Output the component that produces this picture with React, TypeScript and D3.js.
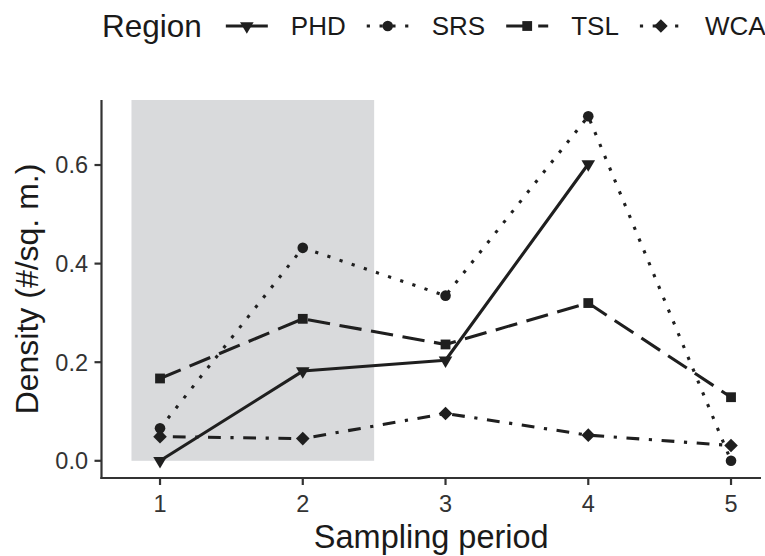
import { useEffect, useRef } from 'react';
import * as d3 from 'd3';

const PERIODS = [1, 2, 3, 4, 5];
const REGIONS = ['PHD', 'SRS', 'TSL', 'WCA'];
const PHD = [0, 0.182, 0.204, 0.602, null];
const SRS = [0.066, 0.432, 0.335, 0.699, 0.0];
const TSL = [0.167, 0.288, 0.236, 0.32, 0.129];
const WCA = [0.049, 0.045, 0.096, 0.052, 0.031];
const Y_TICKS = [0, 0.2, 0.4, 0.6];
const SHADE = [0.8, 2.5];

const SERIES: (number | null)[][] = [PHD, SRS, TSL, WCA];

const W = 765;
const H = 556;
const PANEL = { left: 101.5, right: 761, top: 100, bottom: 478 };
const INK = '#1f1f1f';
const TEXT = '#1a1a1a';
const FONT = '"Liberation Sans", Arial, Helvetica, sans-serif';
const LWD = 3.1;
const U = 3.2; // dash unit

const DASH: Record<string, string | null> = {
  PHD: null,
  SRS: `${U} ${U * 3}`,
  TSL: `${U * 7} ${U * 3}`,
  WCA: `${U} ${U * 3} ${U * 4} ${U * 3}`,
};

function drawShape(g: d3.Selection<SVGGElement, unknown, null, undefined>, region: string, cx: number, cy: number) {
  if (region === 'PHD') {
    const w = 6.8, h = 11.5;
    g.append('path')
      .attr('d', `M${cx - w},${cy - h / 3}L${cx + w},${cy - h / 3}L${cx},${cy + (2 * h) / 3}Z`)
      .attr('fill', INK);
  } else if (region === 'SRS') {
    g.append('circle').attr('cx', cx).attr('cy', cy).attr('r', 5.3).attr('fill', INK);
  } else if (region === 'TSL') {
    g.append('rect').attr('x', cx - 4.9).attr('y', cy - 4.9).attr('width', 9.8).attr('height', 9.8).attr('fill', INK);
  } else {
    const r = 6.8;
    g.append('path')
      .attr('d', `M${cx},${cy - r}L${cx + r},${cy}L${cx},${cy + r}L${cx - r},${cy}Z`)
      .attr('fill', INK);
  }
}

export default function App() {
  const svgRef = useRef<SVGSVGElement>(null);

  useEffect(() => {
    document.body.style.margin = '0';
    const svgEl = svgRef.current;
    if (!svgEl) return;
    const svg = d3.select(svgEl);
    svg.selectAll('*').remove();

    const x = d3.scaleLinear().domain([0.59, 5.21]).range([PANEL.left, PANEL.right]);
    const y = d3.scaleLinear().domain([-0.0349, 0.7319]).range([PANEL.bottom, PANEL.top]);

    // shaded period
    svg.append('rect')
      .attr('x', x(SHADE[0]))
      .attr('y', PANEL.top)
      .attr('width', x(SHADE[1]) - x(SHADE[0]))
      .attr('height', y(0) - PANEL.top)
      .attr('fill', '#d9dadc');

    // lines
    const line = d3.line<[number, number | null]>()
      .defined((d) => d[1] != null)
      .x((d) => x(d[0]))
      .y((d) => y(d[1] as number));

    REGIONS.forEach((region, i) => {
      const pts = PERIODS.map((p, j) => [p, SERIES[i][j]] as [number, number | null]);
      const path = svg.append('path')
        .attr('d', line(pts))
        .attr('fill', 'none')
        .attr('stroke', INK)
        .attr('stroke-width', LWD)
        .attr('stroke-linejoin', 'round');
      if (DASH[region]) path.attr('stroke-dasharray', DASH[region]!);
    });

    // points
    const pg = svg.append('g');
    REGIONS.forEach((region, i) => {
      PERIODS.forEach((p, j) => {
        const v = SERIES[i][j];
        if (v == null) return;
        drawShape(pg, region, x(p), y(v));
      });
    });

    // axes
    const ax = svg.append('g').attr('stroke', '#333333').attr('stroke-width', 2.2);
    ax.append('line').attr('x1', PANEL.left).attr('x2', PANEL.left).attr('y1', PANEL.top).attr('y2', PANEL.bottom + 1.1);
    ax.append('line').attr('x1', PANEL.left - 1.1).attr('x2', PANEL.right).attr('y1', PANEL.bottom).attr('y2', PANEL.bottom);

    Y_TICKS.forEach((t) => {
      ax.append('line').attr('x1', PANEL.left - 7).attr('x2', PANEL.left).attr('y1', y(t)).attr('y2', y(t));
      svg.append('text')
        .attr('x', 88)
        .attr('y', y(t))
        .attr('dy', '0.36em')
        .attr('text-anchor', 'end')
        .attr('font-family', FONT)
        .attr('font-size', 23.5)
        .attr('fill', '#333333')
        .text(d3.format('.1f')(t));
    });

    PERIODS.forEach((p) => {
      ax.append('line').attr('x1', x(p)).attr('x2', x(p)).attr('y1', PANEL.bottom).attr('y2', PANEL.bottom + 7);
      svg.append('text')
        .attr('x', x(p))
        .attr('y', 512)
        .attr('text-anchor', 'middle')
        .attr('font-family', FONT)
        .attr('font-size', 23.5)
        .attr('fill', '#333333')
        .text(String(p));
    });

    svg.append('text')
      .attr('x', (PANEL.left + PANEL.right) / 2)
      .attr('y', 548)
      .attr('text-anchor', 'middle')
      .attr('font-family', FONT)
      .attr('font-size', 32.5)
      .attr('fill', TEXT)
      .text('Sampling period');

    svg.append('text')
      .attr('transform', `translate(38,${(PANEL.top + PANEL.bottom) / 2}) rotate(-90)`)
      .attr('text-anchor', 'middle')
      .attr('font-family', FONT)
      .attr('font-size', 32)
      .attr('fill', TEXT)
      .text('Density (#/sq. m.)');

    // legend
    const lg = svg.append('g');
    const cy = 26;
    const title = lg.append('text')
      .attr('x', 102)
      .attr('y', cy)
      .attr('dy', '0.36em')
      .attr('font-family', FONT)
      .attr('font-size', 31.5)
      .attr('fill', TEXT)
      .text('Region');
    let cursor = 102 + (title.node() as SVGTextElement).getComputedTextLength() + 24;
    const keyW = 42;
    REGIONS.forEach((region) => {
      const k = lg.append('path')
        .attr('d', `M${cursor},${cy}L${cursor + keyW},${cy}`)
        .attr('stroke', INK)
        .attr('stroke-width', LWD)
        .attr('fill', 'none');
      if (DASH[region]) k.attr('stroke-dasharray', DASH[region]!);
      drawShape(lg, region, cursor + keyW / 2, cy);
      cursor += keyW + 23;
      const t = lg.append('text')
        .attr('x', cursor)
        .attr('y', cy)
        .attr('dy', '0.36em')
        .attr('font-family', FONT)
        .attr('font-size', 26)
        .attr('fill', TEXT)
        .text(region);
      cursor += (t.node() as SVGTextElement).getComputedTextLength() + 21;
    });
  }, []);

  return (
    <svg
      ref={svgRef}
      width={W}
      height={H}
      style={{ display: 'block', position: 'absolute', left: 0, top: 0, background: '#ffffff' }}
    />
  );
}
